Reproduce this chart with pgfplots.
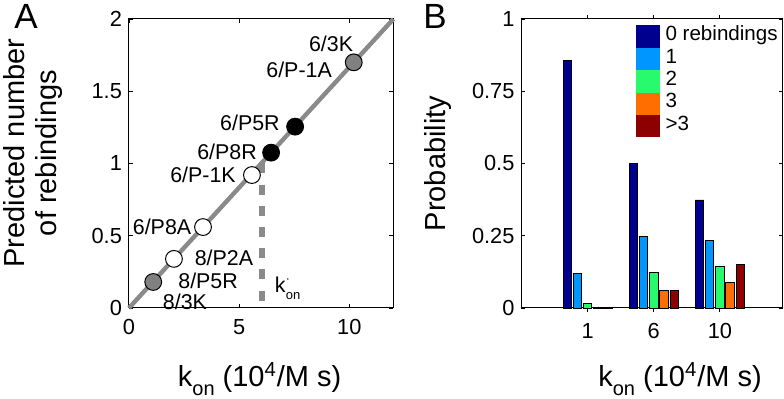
\documentclass[border=0pt]{standalone}
\usepackage{fontspec}
\setmainfont{Liberation Sans}
\usepackage{pgfplots}
\pgfplotsset{compat=1.18}
\definecolor{c0}{RGB}{0,0,143}
\definecolor{c1}{RGB}{0,150,255}
\definecolor{c2}{RGB}{40,250,110}
\definecolor{c3}{RGB}{255,110,0}
\definecolor{c4}{RGB}{140,0,0}
\definecolor{lg}{RGB}{138,138,138}
\definecolor{mg}{RGB}{128,128,128}
\newcommand{\kon}{k\raisebox{-0.55ex}{\fontsize{10}{10}\selectfont on}}
\pgfplotsset{
  matlab/.style={
    scale only axis, height=144.5pt,
    tick align=inside, major tick length=2pt,
    axis line style={line width=0.5pt},
    every tick/.style={black, line width=0.4pt},
    tick label style={font=\fontsize{10.9}{12}\selectfont},
    xticklabel style={yshift=-2pt},
    /pgf/number format/assume math mode=true,
    label style={font=\fontsize{14.5}{16}\selectfont},
    clip=false,
  },
  leg/.style={legend image code/.code={\fill[##1,draw=none] (0pt,-5.6pt) rectangle (12pt,5.6pt);}},
}
\begin{document}
\begin{tikzpicture}
\begin{axis}[matlab, at={(64.5pt,45.5pt)}, anchor=south west, width=132.2pt,
  xmin=0, xmax=12, ymin=0, ymax=2, xtick={0,5,10}, ytick={0,0.5,1,1.5,2},
  xlabel={\kon\ (10\textsuperscript{4}/M s)},
  xlabel style={at={(axis description cs:0.494,-0.273)}, anchor=base},
  ylabel={Predicted number\\of rebindings},
  ylabel style={at={(axis description cs:-0.362,0.536)}, anchor=center, rotate=0, align=center},
]
\addplot[lg, line width=2.2pt] coordinates {(0,0) (12,2)};
\addplot[lg, line width=3pt, dash pattern=on 5pt off 5.6pt] coordinates {(6.05,1.0) (6.05,0)};
\addplot[only marks, mark=*, mark size=4.2pt, mark options={fill=mg, draw=black, line width=0.5pt}] coordinates {(1.1,0.18) (10.2,1.7)};
\addplot[only marks, mark=*, mark size=4.2pt, mark options={fill=white, draw=black, line width=0.5pt}] coordinates {(2.04,0.34) (3.36,0.56) (5.58,0.92)};
\addplot[only marks, mark=*, mark size=4.2pt, mark options={fill=black, draw=black, line width=0.5pt}] coordinates {(6.45,1.075) (7.54,1.255)};
\begin{scope}[every node/.style={font=\fontsize{10.7}{12}\selectfont, inner sep=0pt}]
\node at (axis cs:9.17,1.83) {6/3K};
\node at (axis cs:7.72,1.65) {6/P-1A};
\node at (axis cs:5.49,1.28) {6/P5R};
\node at (axis cs:4.45,1.08) {6/P8R};
\node at (axis cs:3.36,0.92) {6/P-1K};
\node at (axis cs:1.5,0.56) {6/P8A};
\node at (axis cs:4.31,0.35) {8/P2A};
\node at (axis cs:3.59,0.19) {8/P5R};
\node at (axis cs:2.54,0.04) {8/3K};
\node at (axis cs:7.2,0.14) {k\raisebox{0.9ex}{\fontsize{6}{6}\selectfont$\cdot$}\hspace{-2.2pt}\raisebox{-0.6ex}{\fontsize{6.5}{6.5}\selectfont on}};
\end{scope}
\end{axis}
\begin{axis}[matlab, at={(260.75pt,45.5pt)}, anchor=south west, width=130.6pt,
  xmin=0, xmax=3.95, ymin=0, ymax=1, xtick={1,2,3}, xticklabels={1,6,10},
  ytick={0,0.25,0.5,0.75,1},
  ybar=0.9pt, bar width=4.2pt,
  xlabel={\kon\ (10\textsuperscript{4}/M s)},
  xlabel style={at={(axis description cs:0.607,-0.273)}, anchor=base},
  ylabel={Probability},
  ylabel style={at={(axis description cs:-0.318,0.5)}, anchor=center, rotate=0},
  legend style={draw=none, fill=none, inner sep=0pt, row sep=0pt, column sep=3pt,
    at={(axis description cs:0.435,0.979)}, anchor=north west,
    nodes={inner sep=0pt, anchor=west, text height=7.6pt, text depth=3.6pt, font=\fontsize{10.3}{11}\selectfont}},
  legend cell align=left,
]
\addplot[fill=c0, draw=black, line width=0.4pt, leg] coordinates {(1,0.858) (2,0.50) (3,0.374)};
\addplot[fill=c1, draw=black, line width=0.4pt, leg] coordinates {(1,0.121) (2,0.247) (3,0.233)};
\addplot[fill=c2, draw=black, line width=0.4pt, leg] coordinates {(1,0.016) (2,0.122) (3,0.144)};
\addplot[fill=c3, draw=black, line width=0.4pt, leg] coordinates {(1,0.003) (2,0.060) (3,0.089)};
\addplot[fill=c4, draw=black, line width=0.4pt, leg] coordinates {(1,0.001) (2,0.060) (3,0.151)};
\legend{0 rebindings,1,2,3,>3}
\end{axis}
\node[font=\fontsize{17.5}{18}\selectfont] at (13pt,191.5pt) {A};
\node[font=\fontsize{17.5}{18}\selectfont] at (217.5pt,191.5pt) {B};
\pgfresetboundingbox
\useasboundingbox (0,0) rectangle (392pt,199.5pt);
\end{tikzpicture}
\end{document}
